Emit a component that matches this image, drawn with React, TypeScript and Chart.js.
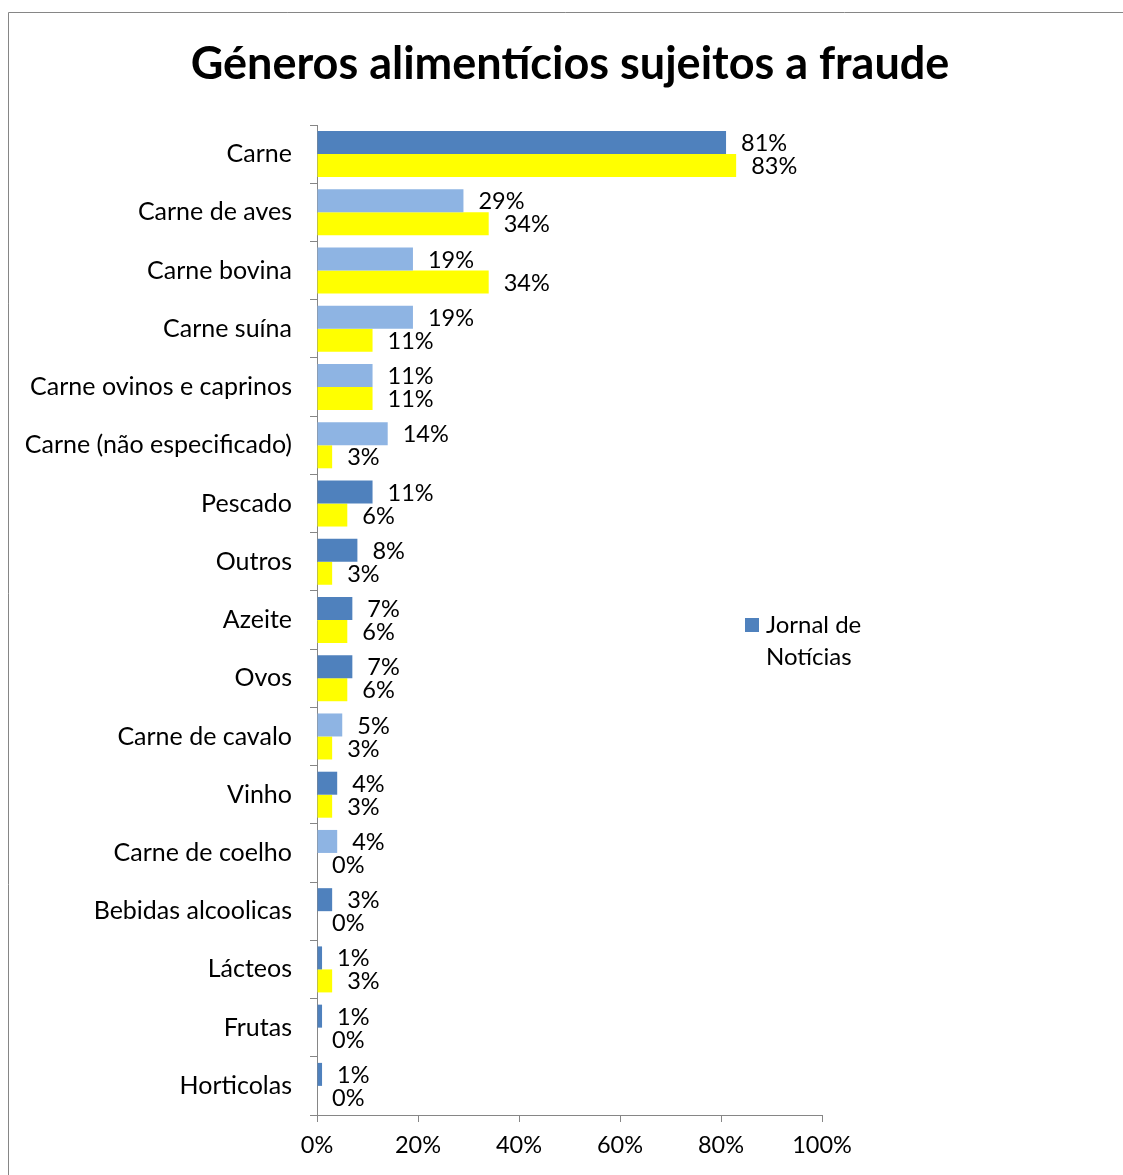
import React, { useEffect, useRef } from "react";
import { Chart, registerables } from "chart.js";

Chart.register(...registerables);

const TITLE = "Géneros alimentícios sujeitos a fraude";
const CATEGORIES = [
  "Carne",
  "Carne de aves",
  "Carne bovina",
  "Carne suína",
  "Carne ovinos e caprinos",
  "Carne (não especificado)",
  "Pescado",
  "Outros",
  "Azeite",
  "Ovos",
  "Carne de cavalo",
  "Vinho",
  "Carne de coelho",
  "Bebidas alcoolicas",
  "Lácteos",
  "Frutas",
  "Horticolas",
];
const JORNAL_VALUES = [81, 29, 19, 19, 11, 14, 11, 8, 7, 7, 5, 4, 4, 3, 1, 1, 1];
const OTHER_VALUES = [83, 34, 34, 11, 11, 3, 6, 3, 6, 6, 3, 3, 0, 0, 3, 0, 0];
const MEAT_SUBTYPE = [false, true, true, true, true, true, false, false, false, false, true, false, true, false, false, false, false];
const X_TICKS = [0, 20, 40, 60, 80, 100];
const SERIES_NAMES = ["Jornal de Notícias", "Outra fonte"];
const LEGEND_LINES = ["Jornal de", "Notícias"];

const DARK_BLUE = "#4F81BD";
const LIGHT_BLUE = "#8EB4E3";
const YELLOW = "#FFFF00";
const AXIS_GREY = "#868686";
const FONT = "Lato";

const W = 1115;
const H = 1163;

const decor = {
  id: "decor",
  beforeDraw(chart: any) {
    const ctx = chart.ctx;
    ctx.save();
    ctx.fillStyle = "#ffffff";
    ctx.fillRect(0, 0, chart.width, chart.height);
    ctx.strokeStyle = AXIS_GREY;
    ctx.lineWidth = 1;
    ctx.beginPath();
    ctx.moveTo(0.5, chart.height);
    ctx.lineTo(0.5, 0.5);
    ctx.lineTo(chart.width, 0.5);
    ctx.stroke();
    ctx.restore();
  },
  afterDatasetsDraw(chart: any) {
    const ctx = chart.ctx;
    ctx.save();
    ctx.font = `23.5px ${FONT}`;
    ctx.fillStyle = "#000000";
    ctx.textAlign = "left";
    ctx.textBaseline = "middle";
    chart.data.datasets.forEach((ds: any, di: number) => {
      const meta = chart.getDatasetMeta(di);
      meta.data.forEach((el: any, i: number) => {
        const v = ds.data[i];
        ctx.fillText(`${v}%`, el.x + 15, el.y + 1);
      });
    });
    ctx.restore();
  },
  afterDraw(chart: any) {
    const ctx = chart.ctx;
    ctx.save();
    ctx.fillStyle = "#000000";
    ctx.font = `bold 45px ${FONT}`;
    ctx.textAlign = "center";
    ctx.textBaseline = "middle";
    ctx.fillText(TITLE, 562, 52);
    // legend
    ctx.fillStyle = DARK_BLUE;
    ctx.fillRect(737, 606, 14, 14);
    ctx.fillStyle = "#000000";
    ctx.font = `24px ${FONT}`;
    ctx.textAlign = "left";
    ctx.fillText(LEGEND_LINES[0], 758, 613);
    ctx.fillText(LEGEND_LINES[1], 758, 645);
    ctx.restore();
  },
};

export default function App() {
  const ref = useRef<HTMLCanvasElement | null>(null);
  useEffect(() => {
    if (!ref.current) return;
    const chart = new Chart(ref.current, {
      type: "bar",
      data: {
        labels: CATEGORIES,
        datasets: [
          {
            label: SERIES_NAMES[0],
            data: JORNAL_VALUES,
            backgroundColor: MEAT_SUBTYPE.map((m) => (m ? LIGHT_BLUE : DARK_BLUE)),
            borderWidth: 0,
            barPercentage: 1,
            categoryPercentage: 0.79,
          },
          {
            label: SERIES_NAMES[1],
            data: OTHER_VALUES,
            backgroundColor: YELLOW,
            borderWidth: 0,
            barPercentage: 1,
            categoryPercentage: 0.79,
          },
        ],
      },
      options: {
        indexAxis: "y",
        responsive: false,
        animation: false,
        devicePixelRatio: 1,
        layout: { padding: { left: 0, right: 301, top: 113, bottom: 0 } },
        plugins: {
          legend: { display: false },
          title: { display: false },
          tooltip: { enabled: false },
        },
        scales: {
          x: {
            type: "linear",
            min: 0,
            max: 100,
            afterBuildTicks: (scale: any) => {
              scale.ticks = X_TICKS.map((v) => ({ value: v }));
            },
            afterFit: (scale: any) => {
              scale.height = 60;
            },
            grid: { drawOnChartArea: false, drawTicks: true, tickLength: 7, color: AXIS_GREY },
            border: { color: AXIS_GREY, width: 1 },
            ticks: {
              callback: (v: any) => `${v}%`,
              color: "#000000",
              font: { family: FONT, size: 23.5 },
              padding: 9,
              maxRotation: 0,
            },
          },
          y: {
            type: "category",
            afterFit: (scale: any) => {
              scale.width = 309;
            },
            grid: { drawOnChartArea: false, drawTicks: true, tickLength: 7, color: AXIS_GREY, offset: true },
            border: { color: AXIS_GREY, width: 1 },
            ticks: {
              color: "#000000",
              font: { family: FONT, size: 25 },
              padding: 18,
              autoSkip: false,
            },
          },
        },
      },
      plugins: [decor],
    } as any);
    return () => chart.destroy();
  }, []);
  return (
    <div style={{ position: "absolute", left: 8, top: 12, width: W, height: H }}>
      <canvas ref={ref} width={W} height={H} style={{ width: W, height: H, display: "block" }} />
    </div>
  );
}
